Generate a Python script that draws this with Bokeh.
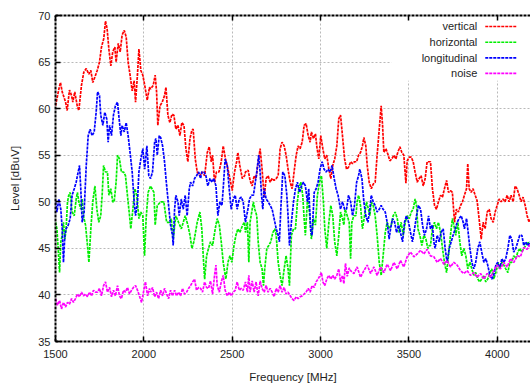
from bokeh.plotting import figure
from bokeh.models import Range1d, FixedTicker, LinearAxis, BoxAnnotation, Label, Arrow
from bokeh.embed import file_html
from bokeh.resources import INLINE

# ---- measured spectra: frequency [MHz] and level [dBuV] per polarisation ----
vertical_mhz = [
    1500, 1519, 1528, 1538, 1557, 1566, 1579, 1591, 1598, 1609, 1623, 1632, 1647, 1660, 1674, 1689,
    1700, 1711, 1723, 1736, 1749, 1760, 1773, 1783, 1792, 1802, 1813, 1824, 1836, 1843, 1855, 1866,
    1877, 1889, 1900, 1911, 1922, 1934, 1945, 1953, 1964, 1972, 1983, 1994, 2005, 2019, 2032,
    2038, 2053, 2064, 2072, 2079, 2091, 2104, 2117, 2125, 2136, 2147, 2159, 2170, 2181, 2193, 2204,
    2215, 2227, 2238, 2249, 2261, 2272, 2279, 2291, 2302, 2317, 2330, 2344, 2359, 2370, 2381, 2389,
    2400, 2411, 2425, 2438, 2449, 2462, 2476, 2487, 2500, 2513, 2525, 2532, 2543, 2557, 2570,
    2575, 2590, 2601, 2613, 2624, 2635, 2647, 2658, 2669, 2681, 2692, 2703, 2715, 2726, 2737, 2749,
    2760, 2771, 2782, 2794, 2805, 2816, 2828, 2839, 2850, 2862, 2873, 2884, 2896, 2907, 2918, 2930,
    2941, 2948, 2960, 2971, 2979, 2990, 3001, 3013, 3024, 3035, 3047, 3058, 3069, 3080, 3092, 3103,
    3113, 3124, 3136, 3147, 3158, 3170, 3181, 3192, 3204, 3215, 3226, 3237, 3245, 3256, 3264, 3275,
    3287, 3298, 3309, 3320, 3332, 3343, 3351, 3358, 3370, 3381, 3392, 3403, 3415, 3426, 3437, 3449,
    3460, 3471, 3483, 3490, 3502, 3513, 3524, 3535, 3547, 3558, 3569, 3581, 3592, 3603, 3615,
    3622, 3633, 3645, 3656, 3667, 3679, 3690, 3701, 3713, 3724, 3735, 3746, 3758, 3769, 3780, 3792,
    3803, 3814, 3826, 3833, 3841, 3852, 3863, 3875, 3886, 3897, 3909, 3920, 3931, 3943, 3954, 3965,
    3977, 3988, 3999, 4011, 4022, 4033, 4044, 4056, 4067, 4078, 4090, 4101, 4112, 4124, 4135, 4146,
    4158, 4169, 4180, 4190,
]
vertical_dbuv = [
    60.3, 62.1, 62.8, 61.8, 60.7, 59.8, 62.0, 61.4, 60.7, 61.8, 60.3, 59.8, 62.5, 63.9, 64.3, 63.7,
    64.1, 62.8, 63.4, 64.1, 65.0, 66.6, 67.5, 69.4, 68.6, 66.4, 64.6, 66.1, 66.6, 65.0, 67.0, 66.1,
    67.9, 68.4, 67.7, 65.0, 63.6, 61.9, 63.0, 60.7, 63.7, 66.4, 64.1, 63.6, 62.5, 60.9, 62.3,
    62.1, 62.5, 63.6, 61.8, 58.2, 60.3, 60.7, 61.4, 62.3, 59.3, 58.5, 59.4, 59.3, 57.8, 58.2, 57.1,
    58.5, 58.2, 55.7, 54.3, 56.8, 57.7, 57.8, 54.6, 53.2, 52.8, 53.2, 52.8, 55.3, 55.9, 54.3, 55.0,
    52.1, 53.2, 53.2, 54.3, 56.0, 54.6, 53.5, 52.5, 51.2, 53.2, 54.3, 55.3, 53.9, 52.5, 52.8,
    53.2, 53.4, 52.3, 51.7, 52.8, 52.5, 54.3, 55.7, 53.5, 50.5, 52.5, 52.8, 52.1, 52.5, 52.3, 52.5,
    52.8, 55.7, 56.4, 56.0, 55.0, 53.5, 52.1, 51.4, 53.2, 55.0, 56.0, 55.7, 56.4, 58.2, 58.4, 57.1,
    56.4, 57.5, 56.8, 57.3, 55.9, 54.6, 57.1, 55.7, 54.6, 55.0, 53.5, 52.5, 53.9, 54.6, 56.0, 58.9,
    59.3, 57.1, 54.6, 53.5, 53.7, 54.3, 54.1, 54.3, 54.3, 55.0, 55.3, 56.0, 56.9, 56.0, 53.9, 52.1,
    51.4, 51.9, 52.1, 55.0, 57.8, 60.3, 58.2, 55.3, 55.7, 55.1, 54.4, 54.6, 55.0, 54.6, 55.3, 55.9,
    55.3, 55.0, 52.0, 54.4, 54.8, 54.8, 54.3, 53.2, 52.1, 52.5, 52.8, 51.7, 52.5, 54.3, 54.3,
    54.3, 51.4, 49.6, 49.2, 50.0, 50.7, 50.5, 51.4, 52.3, 51.0, 51.2, 51.0, 47.8, 49.2, 48.9, 49.6,
    50.0, 50.7, 51.4, 54.1, 51.4, 51.0, 51.4, 50.7, 50.1, 48.2, 46.0, 47.8, 47.1, 48.9, 49.2, 48.2,
    47.8, 48.9, 49.6, 50.3, 50.0, 50.3, 50.0, 50.7, 50.0, 50.7, 50.0, 51.7, 51.4, 50.7, 50.0, 50.5,
    49.6, 48.5, 47.8, 48.2,
]

horizontal_mhz = [
    1500, 1508, 1515, 1523, 1530, 1538, 1545, 1553, 1560, 1568, 1575, 1583, 1594, 1606, 1617, 1624,
    1632, 1643, 1651, 1658, 1670, 1681, 1689, 1700, 1711, 1723, 1734, 1745, 1756, 1764, 1772, 1783,
    1794, 1802, 1813, 1824, 1832, 1843, 1851, 1862, 1873, 1885, 1896, 1907, 1919, 1926, 1938, 1949,
    1960, 1972, 1983, 1994, 2004, 2013, 2024,
    2038, 2057, 2064, 2076, 2095, 2113, 2129, 2144, 2155, 2166, 2181, 2196, 2212, 2223, 2234, 2249,
    2261, 2272, 2283, 2302, 2317, 2328, 2336, 2344, 2355, 2366, 2377, 2389, 2404, 2415, 2427, 2438,
    2449, 2464, 2476, 2487, 2498, 2510, 2521, 2532, 2543, 2559, 2570,
    2575, 2586, 2594, 2601, 2613, 2620, 2628, 2639, 2647, 2658, 2669, 2677, 2684, 2696, 2707, 2718,
    2730, 2741, 2749, 2760, 2771, 2782, 2794, 2805, 2816, 2824, 2835, 2847, 2858, 2869, 2877, 2888,
    2899, 2907, 2914, 2926, 2937, 2948, 2960, 2971, 2982, 2994, 3005, 3016, 3024, 3035, 3047, 3058,
    3069, 3080, 3092, 3103,
    3113, 3124, 3132, 3139, 3151, 3162, 3170, 3177, 3188, 3200, 3207, 3215, 3226, 3237, 3249, 3260,
    3271, 3279, 3287, 3298, 3309, 3320, 3332, 3343, 3354, 3366, 3377, 3388, 3400, 3411, 3422, 3434,
    3445, 3456, 3468, 3479, 3490, 3502, 3513, 3524, 3535, 3543, 3551, 3562, 3573, 3585, 3596, 3607,
    3615,
    3622, 3633, 3645, 3656, 3667, 3679, 3690, 3701, 3713, 3724, 3735, 3746, 3754, 3765, 3777, 3788,
    3799, 3811, 3822, 3833, 3845, 3856, 3867, 3878, 3890, 3901, 3912, 3924, 3935, 3946, 3958, 3969,
    3980, 3992, 4003, 4014, 4026, 4037, 4048, 4060, 4071, 4082, 4093, 4105, 4116, 4127, 4139, 4150,
    4161, 4173, 4184,
]
horizontal_dbuv = [
    47.8, 47.1, 45.0, 42.4, 45.7, 46.4, 47.8, 46.0, 47.1, 50.0, 50.7, 51.0, 48.9, 48.5, 50.3, 51.0,
    50.0, 49.2, 50.3, 48.5, 47.5, 45.3, 43.5, 47.1, 50.0, 51.7, 49.2, 47.8, 48.5, 50.7, 53.9, 53.2,
    53.2, 50.7, 51.4, 50.0, 50.0, 52.1, 55.0, 54.6, 53.2, 53.2, 52.8, 50.7, 48.5, 47.1, 49.2, 51.4,
    50.7, 48.2, 48.9, 48.5, 44.2, 48.2, 51.0,
    51.7, 51.0, 47.5, 49.6, 50.0, 50.0, 47.8, 47.8, 48.2, 46.0, 48.5, 47.8, 47.1, 47.8, 48.5, 47.5,
    46.4, 45.0, 45.7, 47.8, 48.9, 47.1, 44.2, 41.7, 44.2, 45.0, 45.7, 45.3, 47.1, 48.2, 47.5, 45.7,
    43.5, 41.7, 43.5, 44.2, 43.5, 45.3, 46.4, 47.1, 46.7, 47.5, 47.8,
    46.7, 47.8, 43.5, 47.8, 49.2, 50.0, 49.2, 48.5, 45.7, 43.5, 42.8, 41.0, 42.8, 45.0, 45.3, 45.7,
    46.7, 47.1, 46.4, 43.5, 42.1, 41.0, 42.8, 44.2, 42.8, 41.0, 46.4, 47.1, 47.1, 50.0, 51.4, 52.1,
    50.7, 48.2, 46.4, 50.3, 48.9, 46.0, 48.2, 47.5, 50.7, 52.1, 52.8, 50.0, 47.1, 45.0, 47.8, 49.6,
    48.5, 45.7, 44.2, 46.4,
    48.9, 48.2, 47.5, 49.2, 48.5, 47.8, 43.9, 47.8, 48.5, 48.5, 50.0, 50.7, 49.6, 47.1, 48.5, 50.0,
    49.2, 48.5, 50.0, 49.6, 48.5, 46.4, 43.5, 42.1, 44.2, 46.7, 47.8, 47.1, 47.5, 48.5, 48.9, 48.2,
    46.7, 47.8, 46.4, 47.8, 48.5, 48.2, 48.9, 49.2, 50.3, 49.6, 47.1, 46.4, 45.3, 46.4, 46.0, 45.0,
    45.3,
    45.3, 47.1, 47.8, 47.1, 47.8, 46.7, 45.0, 43.5, 42.4, 44.2, 46.4, 48.2, 47.5, 46.4, 47.8, 45.7,
    44.2, 45.0, 44.2, 42.8, 43.5, 42.8, 42.1, 42.4, 41.7, 41.4, 41.7, 42.1, 41.4, 41.7, 42.4, 42.8,
    41.7, 42.4, 43.5, 42.8, 43.5, 43.2, 42.8, 42.4, 43.5, 43.5, 44.2, 43.9, 44.6, 45.0, 44.6, 45.0,
    45.3, 45.7, 45.3,
]

longitudinal_mhz = [
    1500, 1508, 1519, 1530, 1538, 1545, 1553, 1560, 1572, 1583, 1594, 1606, 1617, 1624, 1636, 1643,
    1651, 1662, 1674, 1685, 1696, 1707, 1719, 1730, 1738, 1749, 1756, 1768, 1779, 1790, 1798, 1806,
    1817, 1828, 1839, 1851, 1858, 1870, 1877, 1889, 1900, 1911, 1922, 1934, 1945, 1953, 1964, 1972,
    1983, 1994, 2005, 2017, 2028,
    2038, 2049, 2061, 2068, 2076, 2087, 2095, 2106, 2117, 2129, 2140, 2151, 2162, 2166, 2174, 2181,
    2193, 2200, 2212, 2223, 2234, 2245, 2257, 2264, 2276, 2287, 2298, 2310, 2321, 2328, 2340, 2351,
    2362, 2374, 2385, 2396, 2408, 2419, 2430, 2442, 2449, 2460, 2472, 2483, 2494, 2506, 2517, 2528,
    2540, 2551, 2562,
    2575, 2586, 2598, 2609, 2620, 2628, 2639, 2650, 2658, 2666, 2673, 2681, 2692, 2703, 2715, 2726,
    2737, 2749, 2760, 2767, 2775, 2786, 2798, 2809, 2816, 2824, 2835, 2847, 2858, 2869, 2881, 2892,
    2903, 2914, 2926, 2933, 2945, 2952, 2964, 2975, 2986, 2997, 3009, 3020, 3031, 3043, 3054, 3065,
    3077, 3088, 3099,
    3113, 3124, 3136, 3147, 3158, 3170, 3181, 3192, 3204, 3215, 3222, 3234, 3245, 3256, 3268, 3279,
    3287, 3298, 3309, 3320, 3332, 3343, 3354, 3366, 3377, 3388, 3396, 3407, 3419, 3430, 3441, 3452,
    3464, 3475, 3486, 3498, 3509, 3520, 3532, 3543, 3554, 3566, 3577, 3588, 3600, 3611,
    3622, 3633, 3641, 3648, 3660, 3671, 3682, 3694, 3705, 3716, 3728, 3739, 3750, 3762, 3773, 3784,
    3796, 3807, 3814, 3826, 3833, 3845, 3856, 3867, 3878, 3890, 3901, 3912, 3924, 3935, 3946, 3958,
    3969, 3980, 3992, 4003, 4014, 4026, 4037, 4048, 4060, 4071, 4082, 4093, 4105, 4116, 4127, 4139,
    4150, 4161, 4173, 4184,
]
longitudinal_dbuv = [
    50.0, 48.9, 50.3, 49.2, 47.1, 43.5, 46.4, 47.1, 47.5, 48.2, 50.7, 51.4, 52.1, 52.8, 53.9, 51.4,
    47.8, 48.9, 53.9, 57.1, 57.8, 57.1, 57.5, 59.6, 61.8, 61.4, 59.3, 58.2, 59.6, 58.9, 56.4, 58.2,
    57.1, 59.3, 60.3, 60.7, 59.3, 57.1, 58.2, 57.5, 58.5, 57.1, 55.3, 53.2, 50.0, 48.5, 50.0, 53.2,
    54.6, 55.7, 53.5, 56.0, 52.8,
    52.5, 53.2, 56.4, 56.8, 55.0, 57.1, 56.9, 56.0, 54.3, 51.7, 49.6, 47.5, 46.4, 45.3, 49.2, 50.7,
    50.0, 48.5, 50.3, 49.2, 50.7, 48.5, 51.4, 52.1, 51.7, 52.5, 52.8, 53.2, 52.5, 53.2, 53.2, 52.8,
    51.7, 52.5, 52.1, 52.5, 51.7, 48.5, 50.0, 49.6, 51.4, 54.6, 53.9, 51.4, 49.2, 50.3, 50.7, 49.2,
    50.3, 50.5, 50.0,
    47.8, 48.9, 50.3, 50.7, 50.7, 51.7, 53.2, 55.0, 53.2, 50.7, 49.2, 51.4, 50.3, 50.0, 49.6, 49.2,
    48.2, 47.1, 46.4, 45.7, 49.2, 53.2, 52.8, 50.7, 48.5, 45.3, 47.8, 50.0, 51.4, 52.1, 51.0, 51.7,
    52.1, 51.7, 50.0, 51.4, 46.7, 46.4, 51.0, 51.4, 52.1, 53.5, 54.3, 53.5, 53.2, 53.5, 53.2, 53.9,
    52.5, 51.4, 50.7,
    49.2, 50.0, 49.2, 49.2, 50.7, 50.0, 48.5, 49.6, 52.1, 52.8, 53.5, 52.5, 50.0, 48.5, 47.8, 49.2,
    50.7, 50.0, 49.6, 48.9, 49.2, 49.6, 49.2, 48.9, 47.8, 46.0, 47.1, 48.2, 47.8, 46.7, 47.5, 46.7,
    45.7, 47.8, 48.5, 47.8, 46.7, 45.7, 47.1, 48.5, 49.6, 49.2, 47.5, 46.4, 47.1, 48.5,
    47.1, 47.5, 45.7, 45.0, 46.4, 45.7, 46.7, 47.1, 45.0, 43.5, 45.0, 45.7, 46.4, 47.1, 47.8, 48.2,
    48.5, 47.8, 47.1, 48.2, 47.1, 45.0, 43.5, 42.8, 43.5, 45.0, 45.7, 44.6, 43.5, 43.9, 43.2, 42.1,
    41.7, 42.1, 43.2, 43.5, 42.8, 43.9, 43.5, 43.9, 45.0, 46.4, 46.0, 44.6, 45.0, 45.7, 46.4, 46.4,
    45.3, 45.7, 45.3, 45.7,
]

noise_mhz = [
    1500, 1511, 1523, 1534, 1545, 1557, 1568, 1579, 1591, 1602, 1613, 1624, 1636, 1647, 1658, 1670,
    1681, 1692, 1704, 1715, 1726, 1738, 1749, 1760, 1772, 1783, 1794, 1806, 1817, 1828, 1839, 1851,
    1862, 1873, 1885, 1896, 1907, 1919, 1930, 1941, 1953, 1964, 1975, 1987, 1998, 2009, 2021, 2032,
    2038, 2049, 2061, 2072, 2083, 2095, 2106, 2117, 2129, 2140, 2151, 2162, 2174, 2185, 2196, 2208,
    2219, 2230, 2242, 2253, 2264, 2276, 2287, 2298, 2310, 2321, 2332, 2344, 2355, 2366, 2377, 2389,
    2400, 2408, 2415, 2427, 2438, 2449, 2460, 2472, 2483, 2494, 2506, 2517, 2528, 2540, 2551, 2562,
    2575, 2586, 2594, 2601, 2613, 2624, 2635, 2647, 2658, 2669, 2681, 2692, 2703, 2715, 2726, 2737,
    2749, 2760, 2771, 2782, 2794, 2805, 2816, 2828, 2839, 2850, 2862, 2873, 2884, 2896, 2907, 2918,
    2930, 2941, 2952, 2964, 2975, 2986, 2997, 3005, 3013, 3024, 3035, 3047, 3058, 3069, 3080, 3092,
    3103, 3113, 3124, 3132, 3141, 3151, 3162,
    3170, 3189, 3207, 3226, 3245, 3264, 3283, 3302, 3320, 3339, 3358, 3377, 3396, 3415, 3434, 3452,
    3471, 3490, 3509, 3528, 3547, 3566, 3584, 3603, 3622, 3641, 3660, 3679, 3698, 3716, 3735, 3754,
    3773, 3792, 3811, 3830, 3848, 3867, 3886, 3905, 3924, 3943, 3962, 3980, 3999, 4018, 4037, 4056,
    4075, 4094, 4113, 4131, 4150, 4169, 4188,
]
noise_dbuv = [
    39.6, 38.9, 39.4, 38.5, 39.2, 38.7, 39.2, 39.0, 39.6, 39.2, 39.6, 40.1, 39.8, 40.3, 39.9, 40.1,
    39.8, 40.3, 39.9, 40.5, 40.3, 40.3, 40.7, 39.9, 41.0, 41.4, 40.3, 40.8, 39.8, 40.5, 39.9, 41.0,
    39.9, 39.6, 40.5, 40.3, 40.8, 40.1, 40.5, 40.8, 41.0, 40.5, 39.9, 39.2, 40.3, 41.4, 39.9, 40.7,
    40.3, 40.8, 39.8, 40.3, 39.6, 40.5, 39.9, 40.7, 40.1, 39.6, 40.5, 39.9, 40.5, 39.9, 40.3, 39.9,
    40.7, 40.1, 40.3, 40.7, 41.0, 41.4, 41.7, 40.5, 40.8, 40.7, 40.3, 41.4, 40.8, 40.7, 41.5, 40.1,
    42.1, 43.2, 41.0, 40.3, 41.4, 42.1, 40.5, 39.9, 40.3, 39.9, 40.3, 40.5, 41.4, 40.5, 40.7, 40.5,
    41.4, 40.3, 42.1, 40.3, 41.5, 40.3, 41.4, 39.9, 41.5, 40.7, 40.3, 41.0, 40.3, 40.7, 40.3, 39.8,
    40.7, 40.3, 41.0, 40.3, 40.8, 40.1, 40.3, 39.9, 39.6, 39.4, 39.8, 39.6, 39.8, 39.9, 40.1, 40.3,
    40.7, 40.3, 41.0, 40.8, 41.4, 41.7, 42.1, 42.4, 41.4, 41.0, 41.7, 42.1, 41.7, 42.1, 41.7, 42.1,
    42.8, 41.4, 42.1, 41.2, 43.4, 42.0, 42.9,
    42.6, 42.3, 43.0, 41.9, 42.6, 43.2, 42.3, 43.0, 42.1, 43.0, 42.4, 43.3, 42.6, 43.5, 42.8, 43.7,
    43.0, 44.1, 44.6, 44.1, 44.4, 44.8, 44.4, 44.9, 44.2, 44.1, 43.5, 43.9, 43.3, 43.7, 43.0, 43.5,
    43.2, 42.6, 42.3, 42.6, 42.1, 42.4, 41.9, 42.3, 41.7, 42.3, 41.9, 42.6, 43.2, 42.8, 43.5, 43.0,
    43.9, 43.5, 44.2, 44.1, 45.1, 44.9, 45.5,
]

series_names = ["vertical", "horizontal", "longitudinal", "noise"]
series_colors = ["#ff0000", "#00ee00", "#0000ff", "#ff00ff"]
series_x = [vertical_mhz, horizontal_mhz, longitudinal_mhz, noise_mhz]
series_y = [vertical_dbuv, horizontal_dbuv, longitudinal_dbuv, noise_dbuv]

freq_ticks = [1500, 2000, 2500, 3000, 3500, 4000]
level_ticks = [35, 40, 45, 50, 55, 60, 65, 70]

FONT = "Liberation Sans"
INK = "#1e1e1e"

p = figure(
    width=530, height=387,
    output_backend="svg", toolbar_location=None,
    x_range=Range1d(1500, 4188), y_range=Range1d(35, 70),
    min_border_left=55, min_border_right=0, min_border_top=15, min_border_bottom=46,
    background_fill_color="white", border_fill_color="white",
)
p.outline_line_color = None

bottom_axis = p.below[0]
left_axis = p.left[0]
top_axis = LinearAxis()
p.add_layout(top_axis, "above")

for ax, ticks in ((bottom_axis, freq_ticks), (left_axis, level_ticks), (top_axis, freq_ticks)):
    ax.ticker = FixedTicker(ticks=ticks)
    ax.axis_line_color = "black"
    ax.axis_line_width = 2
    ax.axis_line_dash = "3 1"
    ax.major_tick_in = 5
    ax.major_tick_out = 0
    ax.major_tick_line_color = "black"
    ax.major_tick_line_width = 1.5
    ax.minor_tick_line_color = None
    ax.major_label_text_font = FONT
    ax.major_label_text_font_size = "11px"
    ax.major_label_text_color = INK
    ax.axis_label_text_font = FONT
    ax.axis_label_text_font_size = "11.5px"
    ax.axis_label_text_font_style = "normal"
    ax.axis_label_text_color = INK

bottom_axis.axis_label = "Frequency [MHz]"
bottom_axis.major_label_standoff = 8
bottom_axis.axis_label_standoff = 10

left_axis.axis_label = "Level [dBuV]"
left_axis.major_label_standoff = 5
left_axis.axis_label_standoff = 14

top_axis.major_label_overrides = {t: "" for t in freq_ticks}
top_axis.major_label_standoff = 0
top_axis.major_label_text_font_size = "6px"

p.xgrid.ticker = FixedTicker(ticks=freq_ticks)
p.ygrid.ticker = FixedTicker(ticks=level_ticks)
p.grid.grid_line_color = "#b9b9b9"
p.grid.grid_line_dash = "2 2"
p.grid.grid_line_width = 1

# opaque key area in the upper right corner
p.add_layout(BoxAnnotation(left=3400, right=4188, bottom=63.0, top=70,
                           fill_color="white", fill_alpha=1.0, line_color=None,
                           level="underlay"))

for xs, ys, color in zip(series_x, series_y, series_colors):
    p.line(xs, ys, line_color=color, line_width=1.7, line_dash="3 1")

# key: right-aligned names with a short dashed sample to their right
key_rows = [68.82, 67.13, 65.46, 63.79]
for name, color, yv in zip(series_names, series_colors, key_rows):
    p.add_layout(Label(x=3887, y=yv, text=name, text_align="right", text_baseline="middle",
                       text_font=FONT, text_font_size="11px", text_color=INK))
    p.add_layout(Arrow(end=None, x_start=3932, y_start=yv, x_end=4108, y_end=yv,
                       line_color=color, line_width=1.7, line_dash="3 1"))

open("out.html", "w").write(file_html(p, INLINE))
